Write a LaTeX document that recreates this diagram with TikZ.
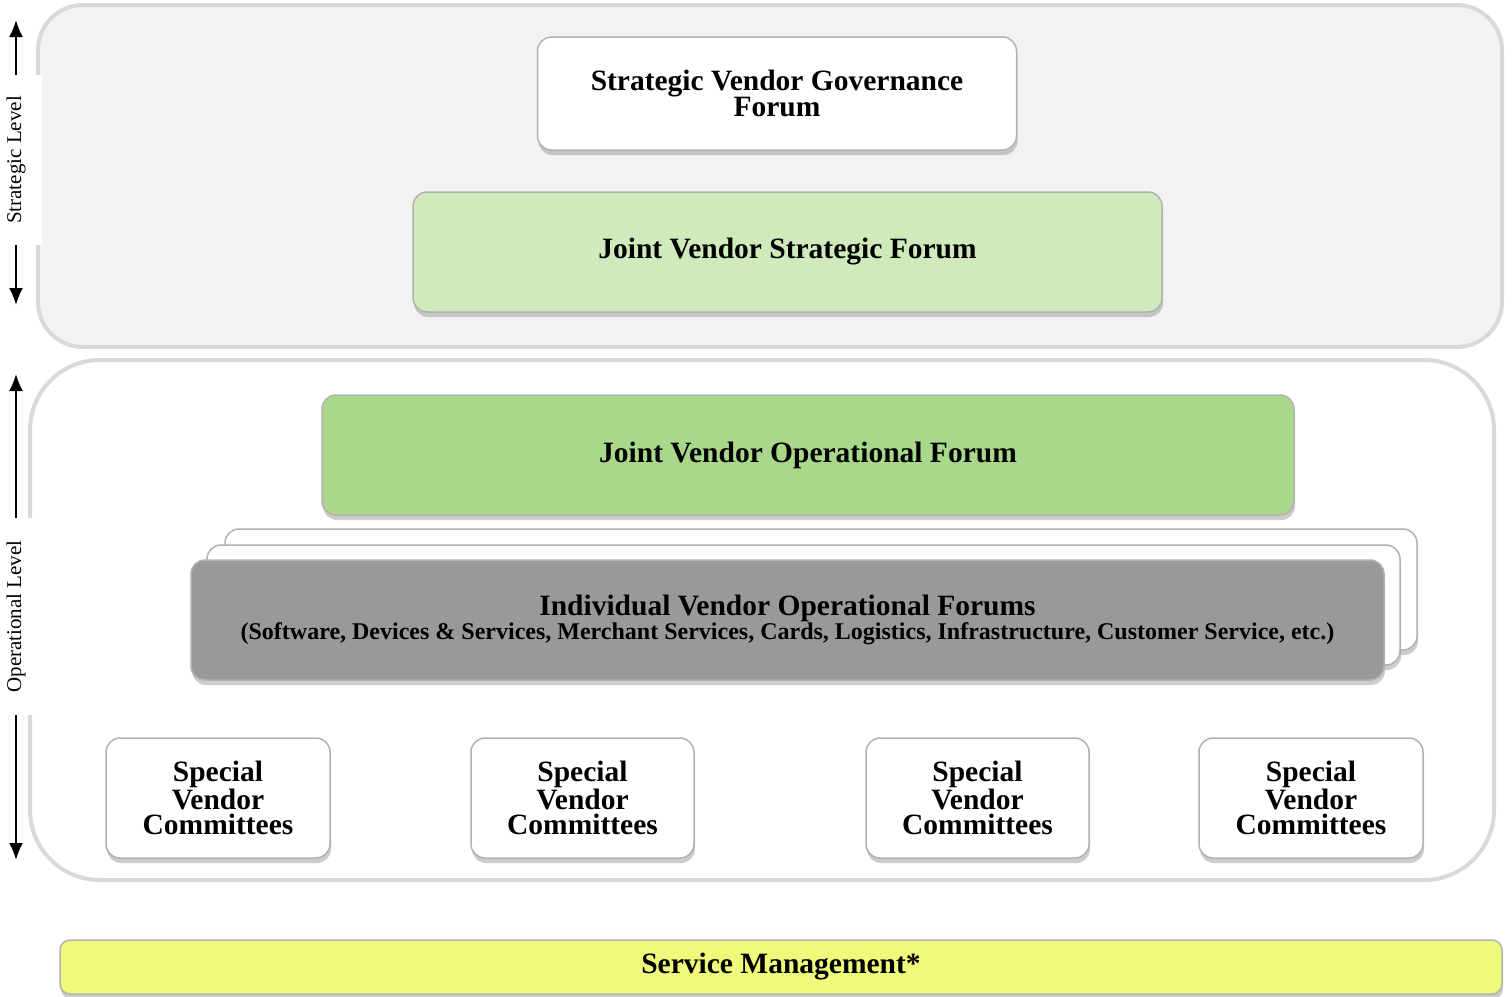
\documentclass[tikz,border=0pt]{standalone}
\usepackage{fontspec}
\setmainfont{Liberation Serif}
\usetikzlibrary{shadows,arrows.meta}
\definecolor{panel_gray}{RGB}{242, 242, 242}
\definecolor{panel_line}{RGB}{217, 217, 217}
\definecolor{jv_light}{RGB}{207, 235, 188}
\definecolor{jv_green}{RGB}{169, 216, 139}
\definecolor{iv_gray}{RGB}{153, 153, 153}
\definecolor{sm_yellow}{RGB}{240, 250, 122}
\tikzstyle{panel}=[draw=panel_line,line width=4pt]
\tikzstyle{forum}=[rectangle,rounded corners=14pt,draw=black!30,line width=1.5pt,
  drop shadow={shadow xshift=1pt,shadow yshift=-5pt,opacity=0.4},
  font=\bfseries\fontsize{29.5}{25}\selectfont,align=center,inner sep=0pt]
\tikzstyle{lvl}=[rotate=90,fill=white,font=\fontsize{21}{24}\selectfont,
  inner sep=0pt,minimum height=52pt]
\tikzstyle{lvlarrow}=[line width=2pt,-{Latex[length=17pt,width=14pt]}]

\begin{document}
\begin{tikzpicture}[x=1pt,y=-1pt]
    \useasboundingbox (0,0) rectangle (1512,996);
    % panels
    \draw [style=panel,fill=panel_gray,rounded corners=45pt] (38,5) rectangle (1502,347);
    \draw [style=panel,fill=white,rounded corners=70pt] (30,360) rectangle (1494,880);
    % strategic level
    \node [style=forum,fill=white,minimum width=479pt,minimum height=113pt] (svgf) at (777,93.5)
      {Strategic Vendor Governance\\Forum};
    \node [style=forum,fill=jv_light,minimum width=749pt,minimum height=120pt] (jvsf) at (787.5,252)
      {Joint Vendor Strategic Forum};
    % operational level
    \node [style=forum,fill=jv_green,minimum width=972pt,minimum height=120pt] (jvof) at (808,455)
      {Joint Vendor Operational Forum};
    \node [style=forum,fill=white,minimum width=1192pt,minimum height=121pt] (iv3) at (821,589.5) {};
    \node [style=forum,fill=white,minimum width=1193pt,minimum height=120pt] (iv2) at (803.5,605) {};
    \node [style=forum,fill=iv_gray,minimum width=1193pt,minimum height=120pt] (ivof) at (787.5,620)
      {Individual Vendor Operational Forums\\[-1pt]
       {\fontsize{24}{25}\selectfont (Software, Devices \& Services, Merchant Services, Cards, Logistics, Infrastructure, Customer Service, etc.)}};
    \node [style=forum,fill=white,minimum width=224pt,minimum height=120pt] (1svc) at (218,798)
      {Special\\Vendor\\Committees};
    \node [style=forum,fill=white,minimum width=223pt,minimum height=120pt] (2svc) at (582.5,798)
      {Special\\Vendor\\Committees};
    \node [style=forum,fill=white,minimum width=223pt,minimum height=120pt] (3svc) at (977.5,798)
      {Special\\Vendor\\Committees};
    \node [style=forum,fill=white,minimum width=224pt,minimum height=120pt] (4svc) at (1311,798)
      {Special\\Vendor\\Committees};
    % service management
    \node [style=forum,fill=sm_yellow,rounded corners=10pt,minimum width=1442pt,minimum height=54pt] (sm) at (781,967)
      {Service Management*};
    % level labels
    \node [style=lvl,minimum width=170pt] (strlvl) at (16,160) {Strategic Level};
    \node [style=lvl,minimum width=197pt] (oplvl) at (16,616.5) {Operational Level};
    \coordinate (strtop) at (16,20);
    \coordinate (strbot) at (16,305);
    \coordinate (optop) at (16,374);
    \coordinate (opbot) at (16,860);
    \draw [style=lvlarrow] (strlvl.east) to (strtop);
    \draw [style=lvlarrow] (strlvl.west) to (strbot);
    \draw [style=lvlarrow] (oplvl.east) to (optop);
    \draw [style=lvlarrow] (oplvl.west) to (opbot);
\end{tikzpicture}
\end{document}
